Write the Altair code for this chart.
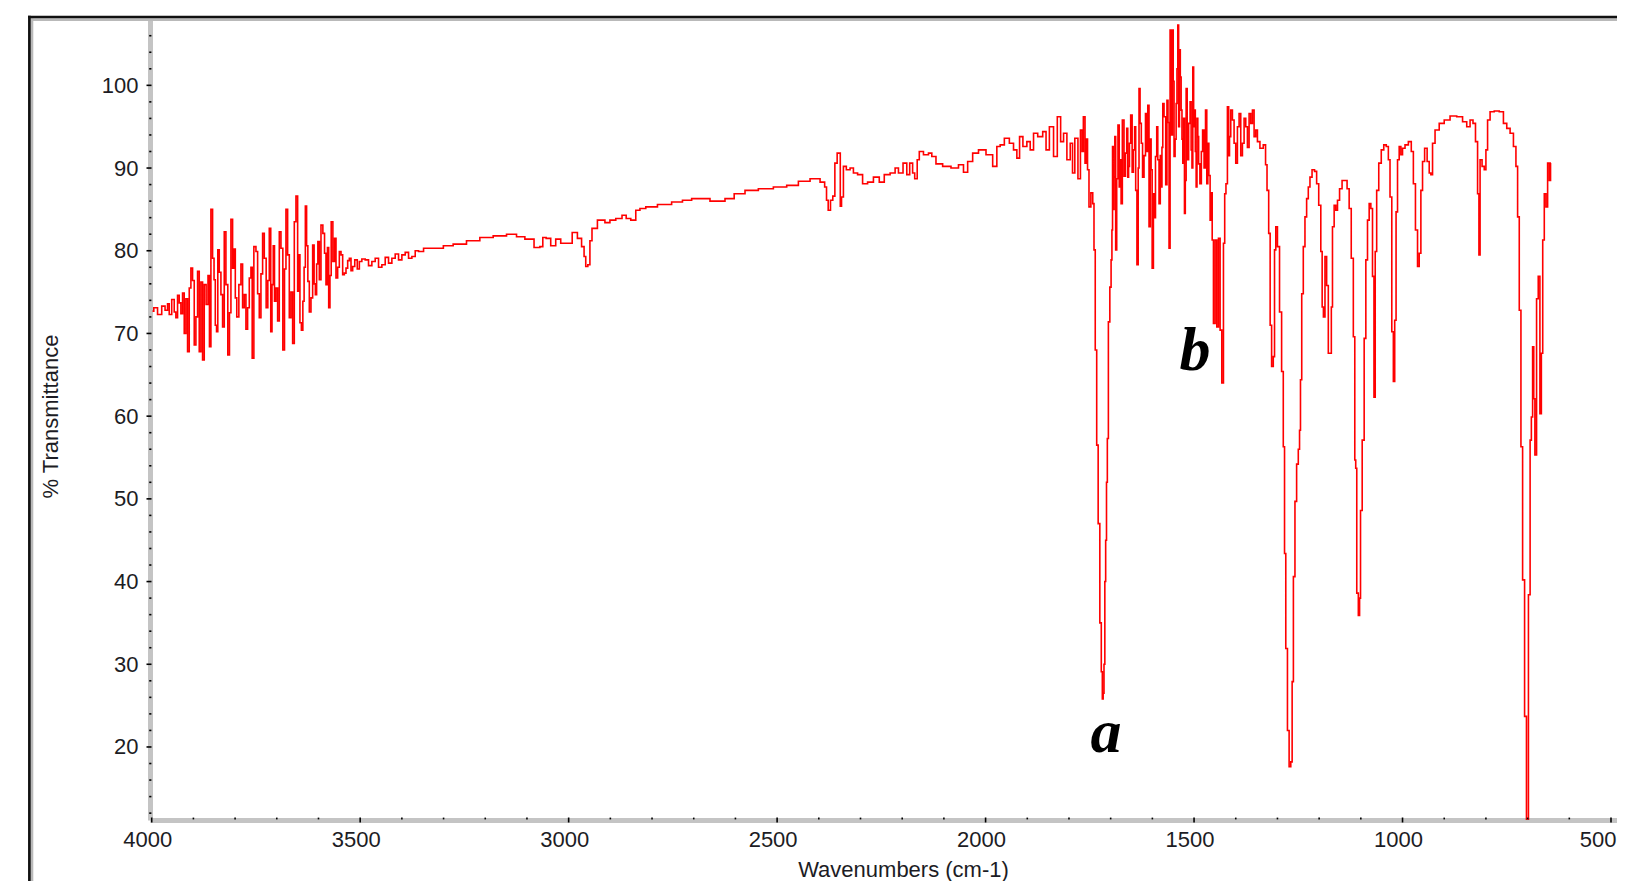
import altair as alt
import pandas as pd

# ---- spectrum readings (wavenumber cm-1, %T), grouped by region ----
REGION_4000_3340 = [
    (3998, 72.7), (3992, 73.1), (3980, 72.3), (3972, 73.3), (3964, 72.8), (3960, 73.6),
    (3956, 72.3), (3948, 74.1), (3944, 72.6), (3940, 71.9), (3936, 74.6), (3932, 73.7),
    (3928, 72.4), (3924, 74.9), (3920, 70.0), (3916, 74.2), (3912, 67.8), (3908, 75.5),
    (3904, 77.9), (3900, 76.4), (3896, 68.6), (3892, 72.0), (3888, 77.5), (3884, 67.8),
    (3880, 76.2), (3876, 66.8), (3872, 75.9), (3867, 73.5), (3863, 77.0), (3860, 68.4),
    (3856, 85.0), (3852, 79.1), (3849, 76.5), (3846, 71.0), (3843, 70.2), (3840, 80.1),
    (3836, 77.4), (3832, 74.7), (3828, 70.8), (3824, 82.3), (3820, 75.9), (3815, 67.4),
    (3812, 72.5), (3808, 83.8), (3804, 77.9), (3801, 80.2), (3798, 74.3), (3794, 72.0),
    (3788, 75.9), (3784, 78.4), (3780, 73.1), (3776, 74.7), (3772, 70.5), (3768, 73.1),
    (3764, 76.7), (3760, 78.0), (3758, 67.0), (3752, 80.5), (3748, 79.9), (3744, 74.8),
    (3740, 71.9), (3736, 77.2), (3732, 82.1), (3728, 79.1), (3723, 73.1), (3720, 76.4),
    (3716, 82.7), (3713, 70.2), (3710, 75.9), (3707, 80.6), (3704, 73.9), (3700, 75.5),
    (3696, 71.5), (3692, 82.3), (3688, 80.3), (3683, 68.0), (3680, 77.8), (3676, 85.0),
    (3672, 79.5), (3668, 71.9), (3664, 75.0), (3660, 68.8), (3656, 83.5), (3652, 86.6),
    (3648, 75.1), (3646, 79.5), (3643, 71.3), (3639, 70.4), (3636, 73.9), (3633, 78.0),
    (3630, 85.4), (3627, 80.6), (3624, 76.3), (3620, 72.6), (3616, 74.3), (3612, 80.7),
    (3609, 76.0), (3606, 74.7), (3603, 78.4), (3600, 81.1), (3596, 76.5), (3592, 83.1),
    (3587, 82.1), (3584, 79.7), (3580, 75.9), (3577, 80.4), (3574, 73.1), (3571, 77.0),
    (3568, 83.5), (3563, 78.7), (3560, 81.5), (3556, 76.7),
    (3552, 78.0), (3548, 79.9), (3544, 79.5), (3540, 77.1), (3536, 77.3), (3532, 77.9),
    (3528, 78.8), (3524, 79.1), (3520, 77.6), (3516, 78.1), (3510, 78.9), (3504, 77.8),
    (3500, 78.7), (3492, 79.0), (3484, 78.9), (3476, 78.2), (3468, 78.7), (3460, 79.1),
    (3452, 78.0), (3444, 78.3), (3436, 79.2), (3428, 78.5), (3420, 79.1), (3412, 79.6),
    (3404, 78.9), (3396, 79.5), (3388, 79.8), (3380, 79.1), (3372, 79.3), (3364, 80.0),
    (3356, 79.9), (3340, 80.3),
]
REGION_3340_2120 = [
    (3308, 80.3), (3293, 80.6), (3261, 80.8), (3229, 81.2), (3197, 81.6), (3165, 81.8),
    (3133, 82.0), (3117, 81.7), (3093, 81.4), (3073, 80.4), (3065, 80.5), (3059, 81.6),
    (3049, 81.5), (3037, 80.6), (3025, 81.4), (3013, 80.9), (2998, 80.9), (2985, 82.2),
    (2973, 81.5), (2965, 80.5), (2961, 79.3), (2957, 78.1), (2951, 78.3), (2947, 81.2),
    (2941, 82.7), (2921, 83.7), (2905, 83.4), (2897, 83.7), (2877, 83.9), (2867, 84.3),
    (2857, 83.9), (2845, 83.7), (2833, 84.9), (2825, 85.1), (2805, 85.3), (2769, 85.6),
    (2737, 85.9), (2717, 86.1), (2693, 86.3), (2665, 86.3), (2657, 86.0), (2633, 86.0),
    (2617, 86.3), (2589, 86.9), (2565, 87.3), (2525, 87.5), (2493, 87.7), (2461, 87.9),
    (2437, 88.4), (2405, 88.7), (2389, 88.3), (2383, 87.7), (2380, 86.1), (2375, 84.9),
    (2369, 86.1), (2364, 86.6), (2359, 90.6), (2353, 91.8), (2349, 91.8), (2348, 85.4),
    (2343, 86.5), (2339, 90.2), (2329, 89.8), (2321, 90.0), (2313, 89.4), (2301, 89.2),
    (2289, 88.1), (2277, 88.3), (2261, 88.9), (2249, 88.3), (2237, 89.2), (2221, 89.4),
    (2213, 90.0), (2205, 89.4), (2191, 90.6), (2187, 89.2), (2177, 90.6), (2173, 89.4),
    (2167, 88.7), (2161, 91.0), (2157, 92.0), (2141, 91.6), (2133, 91.8), (2125, 91.4),
]
REGION_2120_1340 = [
    (2113, 90.5), (2093, 90.2), (2073, 90.0), (2057, 90.4), (2049, 89.5), (2037, 90.8),
    (2025, 91.8), (2009, 92.2), (1989, 91.6), (1977, 90.2), (1969, 92.6), (1961, 92.8),
    (1949, 93.6), (1937, 93.0), (1929, 92.2), (1921, 91.2), (1916, 93.8), (1905, 92.6),
    (1897, 93.2), (1889, 92.2), (1881, 94.2), (1869, 93.8), (1857, 94.4), (1853, 92.2),
    (1841, 95.0), (1833, 91.4), (1823, 96.2), (1817, 93.2), (1809, 94.2), (1801, 91.0),
    (1793, 93.0), (1790, 89.4), (1782, 93.6), (1775, 88.7), (1770, 94.6), (1767, 92.0),
    (1764, 96.2), (1759, 90.6), (1757, 93.5), (1754, 89.8), (1750, 85.3), (1745, 87.0),
    (1741, 85.7), (1739, 80.1), (1735, 68.0),
    (1732, 56.5), (1728, 47.0), (1724, 35.0), (1721, 29.1), (1719, 25.8), (1717, 26.5),
    (1715, 30.0), (1713, 40.0), (1711, 45.0), (1709, 52.0), (1707, 57.3), (1704, 71.4),
    (1700, 75.6), (1698, 78.9), (1696, 82.5), (1695, 92.6), (1693, 85.0), (1691, 88.9),
    (1689, 93.8), (1687, 80.1), (1684, 88.7), (1681, 95.2), (1678, 87.7), (1676, 91.0),
    (1674, 85.7), (1670, 95.8), (1666, 89.0), (1663, 91.8), (1660, 94.8), (1658, 88.9),
    (1656, 90.2), (1654, 93.0), (1650, 96.4), (1647, 89.5), (1644, 92.2), (1641, 95.0),
    (1639, 87.3), (1635, 78.3), (1633, 90.0), (1631, 99.6), (1628, 95.4), (1625, 93.0),
    (1622, 88.9), (1618, 91.5), (1615, 96.6), (1612, 92.0), (1610, 97.6), (1606, 82.9),
    (1604, 93.5), (1602, 89.8), (1599, 77.9), (1596, 86.9), (1594, 84.0), (1591, 91.4),
    (1588, 95.0), (1586, 91.0), (1582, 85.7), (1580, 91.5), (1578, 87.7), (1576, 92.5),
    (1574, 97.8), (1570, 96.2), (1566, 88.0), (1564, 98.2), (1561, 95.5), (1559, 80.3),
    (1556, 106.7), (1553, 94.0), (1551, 106.7), (1549, 100.5), (1547, 91.4), (1544, 93.5),
    (1542, 97.8), (1540, 102.0), (1538, 107.3), (1536, 95.0), (1534, 104.3), (1532, 101.0),
    (1530, 97.0), (1528, 93.5), (1526, 90.6), (1524, 96.0), (1522, 84.5), (1520, 88.5),
    (1518, 99.6), (1515, 91.0), (1511, 95.4), (1508, 98.0), (1506, 92.2), (1504, 90.0),
    (1502, 102.2), (1500, 95.0), (1498, 97.0), (1496, 92.0), (1494, 87.7), (1492, 96.0),
    (1490, 93.8), (1488, 90.5), (1484, 88.1), (1481, 92.0), (1478, 94.6), (1474, 90.0),
    (1471, 97.0), (1468, 88.1), (1466, 93.0), (1463, 89.1), (1460, 83.7), (1458, 87.0),
    (1455, 81.3), (1452, 71.2), (1447, 81.3),
    (1444, 70.8), (1439, 81.5), (1436, 70.4), (1431, 64.0), (1428, 80.9), (1425, 86.9),
    (1422, 88.1), (1418, 97.4), (1416, 91.5), (1414, 93.8), (1410, 97.0), (1406, 95.8),
    (1402, 93.0), (1398, 90.6), (1394, 95.0), (1390, 96.6), (1386, 91.5), (1382, 93.0),
    (1378, 96.0), (1374, 95.0), (1370, 92.5), (1366, 96.6), (1362, 95.4), (1358, 97.0),
    (1354, 93.8), (1350, 94.6), (1346, 93.2),
]
REGION_1340_644 = [
    (1338, 92.4), (1330, 92.8), (1327, 90.4), (1323, 87.3), (1319, 82.1), (1316, 71.0),
    (1312, 66.0), (1308, 67.2), (1306, 80.1), (1302, 82.9), (1298, 80.5), (1292, 72.6),
    (1288, 65.4), (1284, 56.3), (1282, 43.4), (1278, 31.9), (1274, 22.0), (1270, 17.6),
    (1266, 18.2), (1263.5, 27.9), (1260, 40.6), (1256, 49.7), (1252, 54.2), (1248, 56.0),
    (1246, 58.3), (1243.5, 64.4), (1240, 74.8), (1236, 80.5), (1232, 84.1), (1228, 86.3),
    (1224, 87.7), (1220, 88.9), (1214, 89.8), (1208, 89.6), (1204, 88.1), (1198, 85.5),
    (1194, 79.9), (1191.5, 73.2), (1188, 72.0), (1184, 79.3), (1180, 75.8), (1176, 67.6),
    (1171.5, 67.6), (1170, 73.2), (1166, 82.9), (1162, 85.5), (1158, 84.9), (1154, 86.1),
    (1148, 87.5), (1142, 88.5), (1136, 88.5), (1130, 87.5), (1126, 85.1), (1120, 79.1),
    (1116, 69.6), (1113, 54.7), (1111.5, 53.7), (1108, 38.6), (1104, 35.9), (1102, 38.0),
    (1099.5, 48.6), (1094, 57.1), (1090, 69.4), (1086, 78.9), (1082, 83.7), (1078, 85.7),
    (1074, 85.1), (1070, 76.9), (1067, 62.3), (1064, 79.9), (1060, 87.3), (1054, 90.6),
    (1048, 92.2), (1042, 92.8), (1036, 92.6), (1032, 91.0), (1028, 86.5), (1023.5, 70.2),
    (1020.5, 64.2), (1017, 71.6), (1014, 84.7), (1010, 91.0), (1006, 92.6), (1002, 91.6),
    (998, 92.4), (990, 92.8), (982, 93.2), (976, 92.0), (972, 88.1), (966, 82.5),
    (962, 78.1), (958, 79.7), (954, 87.3), (950, 90.8), (944, 92.4), (938, 90.8),
    (934, 89.4), (930, 89.2), (926, 93.0), (918, 94.6), (906, 95.4), (894, 95.8),
    (878, 96.3), (862, 96.2), (850, 95.6), (842, 95.0), (834, 95.8), (828, 95.4),
    (822, 93.2), (818, 86.9), (815.5, 79.5), (812.5, 91.0), (806, 90.2), (802, 89.8),
    (798, 92.2), (794, 95.8), (786, 96.8), (774, 96.9), (762, 96.8), (754, 95.4),
    (746, 94.8), (738, 94.2), (730, 92.6), (726, 90.2), (722, 84.1), (718, 72.8),
    (714, 56.3), (710, 40.2), (704.5, 23.7), (701, 11.0), (700, 11.0), (696, 38.4),
    (692, 57.1), (690, 59.9), (686, 68.4), (684.5, 62.1), (680.5, 55.3), (676.5, 74.2),
    (672.5, 76.9), (668.5, 60.3), (665.5, 67.6), (662, 81.3), (658, 86.9), (654, 85.3),
    (650, 90.6), (646, 88.5), (644, 90.6),
]

X_TICKS = [4000, 3500, 3000, 2500, 2000, 1500, 1000, 500]
Y_TICKS = [20, 30, 40, 50, 60, 70, 80, 90, 100]
X_MINOR = [v for v in range(3900, 500, -100) if v % 500 != 0]
Y_MINOR = [v for v in range(12, 108, 2) if v % 10 != 0]

PEAK_LABELS = ["a", "b"]
PEAK_X = [1711, 1498]
PEAK_Y = [19.4, 65.6]

points = REGION_4000_3340 + REGION_3340_2120 + REGION_2120_1340 + REGION_1340_644
spec = pd.DataFrame(points, columns=["wn", "t"]).sort_values("wn", ascending=False)

W, H = 1467, 800
xs = alt.Scale(domain=[485.6, 4004.1], reverse=True, nice=False, zero=False)
ys = alt.Scale(domain=[11.17, 107.9], nice=False, zero=False)

LABEL_FONT = "Liberation Sans"
TXT = "#1c1c24"

AX = alt.Axis(
    values=X_TICKS, format="d", title="Wavenumbers (cm-1)", grid=False,
    domainColor="#c4c4c4", domainWidth=5, ticks=True, tickSize=0, tickOpacity=0,
    labelFont=LABEL_FONT, labelFontSize=22, labelColor=TXT, labelPadding=9,
    labelBaseline="top",
    labelAlign={"condition": {"test": "datum.value === 500", "value": "right"}, "value": "center"},
    labelOffset={"condition": {"test": "datum.value === 500", "value": 5}, "value": -4.5},
    titleFont=LABEL_FONT, titleFontSize=22, titleFontWeight="normal", titleColor=TXT,
    titleX=753, titleY=56, titleBaseline="alphabetic", titleAlign="center",
)
AY = alt.Axis(
    values=Y_TICKS, format="d", title="% Transmittance", grid=False,
    domainColor="#c4c4c4", domainWidth=5, ticks=True, tickSize=0, tickOpacity=0,
    labelFont=LABEL_FONT, labelFontSize=22, labelColor=TXT, labelPadding=12,
    labelBaseline="middle", labelAlign="right",
    titleFont=LABEL_FONT, titleFontSize=22, titleFontWeight="normal", titleColor=TXT,
    titleX=-93, titleY=396, titleAngle=270, titleBaseline="alphabetic", titleAlign="center",
)

line = alt.Chart(spec).mark_line(
    color="#ff0000", strokeWidth=1.6, clip=True, interpolate="step"
).encode(
    x=alt.X("wn:Q", scale=xs, axis=AX),
    y=alt.Y("t:Q", scale=ys, axis=AY),
)

xmaj = alt.Chart(pd.DataFrame({"v": X_TICKS})).mark_rule(color="black", strokeWidth=1.6).encode(
    x=alt.X("v:Q", scale=xs, axis=AX), y=alt.value(797.5), y2=alt.value(802.5))
xmin = alt.Chart(pd.DataFrame({"v": X_MINOR})).mark_rule(color="black", strokeWidth=1.6).encode(
    x=alt.X("v:Q", scale=xs, axis=AX), y=alt.value(797.6), y2=alt.value(799.4))
ymaj = alt.Chart(pd.DataFrame({"v": Y_TICKS})).mark_rule(color="black", strokeWidth=1.6).encode(
    y=alt.Y("v:Q", scale=ys, axis=AY), x=alt.value(-3.5), x2=alt.value(1.5))
ymin = alt.Chart(pd.DataFrame({"v": Y_MINOR})).mark_rule(color="black", strokeWidth=1.6).encode(
    y=alt.Y("v:Q", scale=ys, axis=AY), x=alt.value(-0.8), x2=alt.value(1.4))

labels = alt.Chart(pd.DataFrame({"lbl": PEAK_LABELS, "x": PEAK_X, "y": PEAK_Y})).mark_text(
    font="Liberation Serif", fontSize=62, fontStyle="italic", fontWeight="bold",
    align="center", baseline="alphabetic", color="black",
).encode(x=alt.X("x:Q", scale=xs, axis=AX), y=alt.Y("y:Q", scale=ys, axis=AY), text="lbl:N")

one = alt.Data(values=[{"k": 1}])
frame_black_v = alt.Chart(one).mark_rule(color="#111111", strokeWidth=2.7).encode(
    x=alt.value(-120.6), y=alt.value(-4.3), y2=alt.value(870))
frame_gray_v = alt.Chart(one).mark_rule(color="#b9b9b9", strokeWidth=2.6).encode(
    x=alt.value(-118), y=alt.value(-1.7), y2=alt.value(870))
frame_black_h = alt.Chart(one).mark_rule(color="#111111", strokeWidth=2.6).encode(
    y=alt.value(-3), x=alt.value(-122), x2=alt.value(W + 5))
frame_gray_h = alt.Chart(one).mark_rule(color="#b9b9b9", strokeWidth=2.6).encode(
    y=alt.value(-0.4), x=alt.value(-119.3), x2=alt.value(W + 5))

chart = alt.layer(
    line, xmaj, xmin, ymaj, ymin, labels,
    frame_gray_v, frame_gray_h, frame_black_v, frame_black_h,
).properties(
    width=W, height=H,
    padding={"left": 142, "top": 12, "right": 0, "bottom": 61},
    autosize=alt.AutoSizeParams(type="none"),
    background="white",
).configure_view(strokeWidth=0)

chart.save("out.html", embed_options={"renderer": "svg", "actions": False})
